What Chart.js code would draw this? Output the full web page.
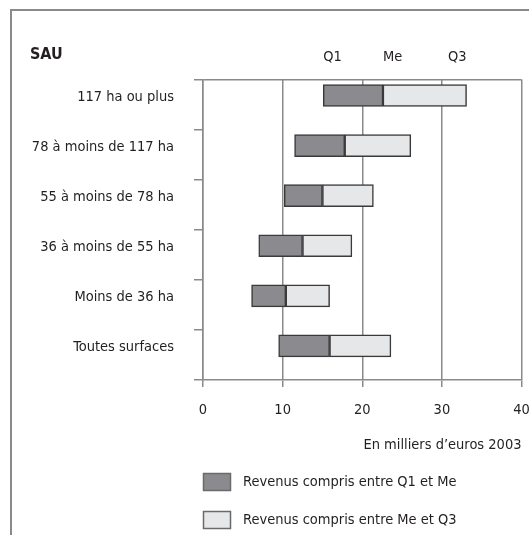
<!DOCTYPE html>
<html lang="fr">
<head>
<meta charset="utf-8">
<title>Revenus selon la SAU</title>
<script src="https://cdn.jsdelivr.net/npm/chart.js@4.4.1/dist/chart.umd.min.js"></script>
<style>
  html, body { margin: 0; padding: 0; background: #fff; }
  #wrap { position: relative; width: 529px; height: 535px; }
</style>
</head>
<body>
<div id="wrap"><canvas id="revenusChart"></canvas></div>
<script>
// Classes de SAU, de haut en bas
var categories = ["117 ha ou plus", "78 à moins de 117 ha", "55 à moins de 78 ha", "36 à moins de 55 ha", "Moins de 36 ha", "Toutes surfaces"];
// Quartiles du revenu (milliers d'euros 2003)
var q1 = [15.1, 11.5, 10.2, 7.0, 6.1, 9.5];
var mediane = [22.6, 17.8, 15.0, 12.5, 10.4, 15.9];
var q3 = [33.1, 26.1, 21.4, 18.7, 15.9, 23.6];
var xTicks = [0, 10, 20, 30, 40];
var seriesLabels = ["Revenus compris entre Q1 et Me", "Revenus compris entre Me et Q3"];
var quartileLabels = ["Q1", "Me", "Q3"];
var axisTitle = "En milliers d\u2019euros 2003";
var rowTitle = "SAU";

var fontFamily = "'DejaVu Sans Condensed', 'Liberation Sans Narrow', sans-serif";
var fontSize = 14.5;
var textColor = "#231f20";
var gridColor = "#8a8a8a";

window.onload = function () {
  if (typeof Chart === "undefined") {
    console.error("Chart.js n'est pas chargé !");
    return;
  }
  Chart.defaults.font.family = fontFamily;
  Chart.defaults.font.size = fontSize;
  Chart.defaults.color = textColor;

  // cadre, titres des colonnes et légende dessinés à la main
  var decor = {
    id: "decor",
    beforeDraw: function (chart) {
      var ctx = chart.ctx;
      ctx.save();
      ctx.strokeStyle = gridColor;
      ctx.lineWidth = 2;
      ctx.beginPath();
      ctx.moveTo(11, 535);
      ctx.lineTo(11, 10);
      ctx.lineTo(529, 10);
      ctx.stroke();
      ctx.restore();
    },
    afterDraw: function (chart) {
      var ctx = chart.ctx;
      var x = chart.scales.x;
      ctx.save();
      ctx.fillStyle = textColor;
      ctx.textBaseline = "middle";
      ctx.textAlign = "left";
      ctx.font = "bold 16px " + fontFamily;
      ctx.fillText(rowTitle, 30, 55);

      ctx.font = fontSize + "px " + fontFamily;
      ctx.fillText(quartileLabels[0], x.getPixelForValue(q1[0]), 57);
      ctx.fillText(quartileLabels[1], x.getPixelForValue(mediane[0]), 57);
      ctx.textAlign = "right";
      ctx.fillText(quartileLabels[2], x.getPixelForValue(q3[0]), 57);

      chart.data.datasets.forEach(function (ds, i) {
        var y = 473 + i * 38;
        ctx.fillStyle = ds.backgroundColor;
        ctx.fillRect(203, y, 28, 18);
        ctx.strokeStyle = "#6a6a6a";
        ctx.lineWidth = 1.5;
        ctx.strokeRect(203.5, y + 0.5, 27, 17);
        ctx.fillStyle = textColor;
        ctx.textAlign = "left";
        ctx.fillText(ds.label, 243, y + 9);
      });
      ctx.restore();
    }
  };

  var ctx = document.getElementById("revenusChart");
  new Chart(ctx, {
    type: "bar",
    data: {
      datasets: [{
        label: seriesLabels[0],
        data: categories.map(function (c, i) { return { x: [q1[i], mediane[i]], y: i }; }),
        backgroundColor: "#8b8b8f",
        borderColor: "#3a3a3a",
        borderWidth: 1.5,
        borderSkipped: false,
        barThickness: 22,
        yAxisID: "yb"
      }, {
        label: seriesLabels[1],
        data: categories.map(function (c, i) { return { x: [mediane[i], q3[i]], y: i }; }),
        backgroundColor: "#e6e7e9",
        borderColor: "#3a3a3a",
        borderWidth: 1.5,
        borderSkipped: false,
        barThickness: 22,
        yAxisID: "yb"
      }]
    },
    options: {
      indexAxis: "y",
      responsive: true,
      maintainAspectRatio: false,
      animation: false,
      layout: { padding: { top: 79.5, right: 7.5, bottom: 81, left: 0 } },
      plugins: {
        legend: { display: false },
        tooltip: { enabled: false }
      },
      scales: {
        x: {
          type: "linear",
          stacked: false,
          min: xTicks[0],
          max: xTicks[xTicks.length - 1],
          afterBuildTicks: function (s) { s.ticks = xTicks.map(function (v) { return { value: v }; }); },
          afterFit: function (s) { s.height = 74; s.paddingLeft = 0; s.paddingRight = 0; },
          grid: { color: gridColor, lineWidth: 1.5, tickLength: 7 },
          border: { display: true, color: gridColor, width: 1.5 },
          ticks: { padding: 14.5, color: textColor },
          title: { display: true, text: axisTitle, align: "end", padding: 0, color: textColor }
        },
        y: {
          type: "linear",
          position: "left",
          reverse: true,
          offset: false,
          min: 0,
          max: categories.length,
          afterBuildTicks: function (s) {
            s.ticks = categories.concat([""]).map(function (c, i) { return { value: i }; });
          },
          afterFit: function (s) { s.width = 203; s.paddingTop = 0; s.paddingBottom = 0; },
          grid: {
            offset: false,
            color: function (c) { return c.tick && c.tick.value === 0 ? gridColor : "transparent"; },
            tickColor: gridColor,
            lineWidth: 1.5,
            tickLength: 9
          },
          border: { display: true, color: gridColor, width: 1.5 },
          ticks: {
            padding: 20,
            labelOffset: 17.5,
            color: textColor,
            callback: function (v) { return categories[v] || ""; }
          }
        },
        yb: {
          type: "linear",
          display: false,
          reverse: true,
          offset: false,
          grid: { offset: false },
          stacked: true,
          min: -0.32,
          max: categories.length - 0.32
        }
      }
    },
    plugins: [decor]
  });
};
</script>
</body>
</html>
